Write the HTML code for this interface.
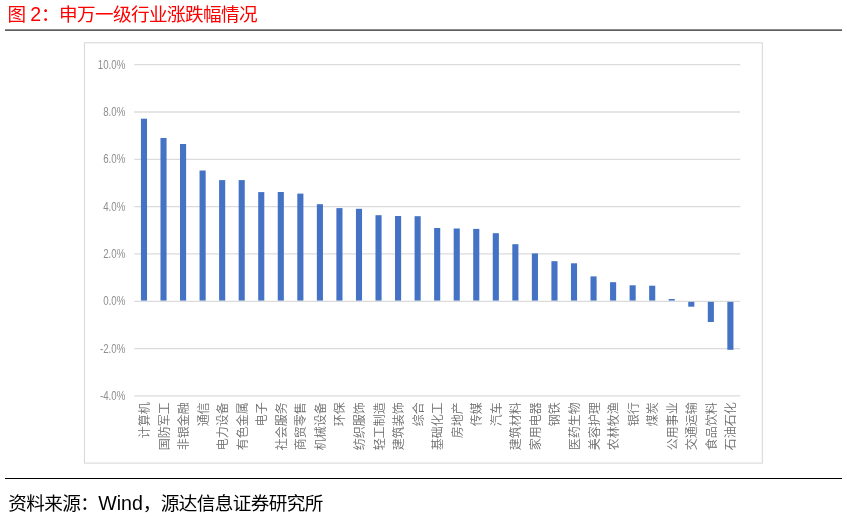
<!DOCTYPE html>
<html lang="zh-CN">
<head>
<meta charset="utf-8">
<title>图 2：申万一级行业涨跌幅情况</title>
<style>
html,body{margin:0;padding:0;background:#fff;}
body{width:847px;height:518px;position:relative;overflow:hidden;font-family:"Liberation Sans","Noto Sans CJK SC",sans-serif;}
.title{position:absolute;left:7.6px;top:1px;font-size:18.6px;letter-spacing:-0.6px;line-height:27px;color:#ff0000;white-space:nowrap;font-family:"Liberation Sans","Noto Sans CJK SC",sans-serif;}
.rule-top{position:absolute;left:5px;top:29px;width:837px;height:2px;background:linear-gradient(#8a8a8a 0,#8a8a8a 50%,#5e5e5e 50%,#5e5e5e 100%);}
.rule-bot{position:absolute;left:5px;top:478px;width:837px;height:1px;background:#000;}
.foot{position:absolute;left:8.2px;top:490px;font-size:18.6px;letter-spacing:-0.6px;line-height:27px;color:#000;white-space:nowrap;}
.lat{font-size:19.6px;line-height:0;letter-spacing:0;}
svg{position:absolute;left:0;top:0;}
.yl{font-family:"Liberation Sans",sans-serif;font-size:12.3px;fill:#8e8e8e;text-anchor:end;}
.xl{font-family:"Liberation Sans","Noto Sans CJK SC",sans-serif;font-size:12px;fill:#6e6e6e;text-anchor:end;font-weight:350;}

</style>
</head>
<body>
<div class="title">图 <span class="lat">2</span>：申万一级行业涨跌幅情况</div>
<div class="rule-top"></div>
<svg width="847" height="518" viewBox="0 0 847 518">
<rect x="84.5" y="42.8" width="677.8" height="420.3" fill="#fff" stroke="#d9d9d9" stroke-width="1.1"/>
<g stroke="#dbdbdb" stroke-width="1.3">
<line x1="134.2" y1="64.65" x2="740.3" y2="64.65"/>
<line x1="134.2" y1="111.98" x2="740.3" y2="111.98"/>
<line x1="134.2" y1="159.31" x2="740.3" y2="159.31"/>
<line x1="134.2" y1="206.64" x2="740.3" y2="206.64"/>
<line x1="134.2" y1="253.97" x2="740.3" y2="253.97"/>
<line x1="134.2" y1="301.30" x2="740.3" y2="301.30"/>
<line x1="134.2" y1="348.63" x2="740.3" y2="348.63"/>
<line x1="134.2" y1="395.96" x2="740.3" y2="395.96"/>
</g>
<g fill="#4472c4">
<rect x="140.92" y="118.70" width="6.10" height="181.85"/>
<rect x="160.47" y="138.00" width="6.10" height="162.55"/>
<rect x="180.02" y="144.00" width="6.10" height="156.55"/>
<rect x="199.56" y="170.50" width="6.10" height="130.05"/>
<rect x="219.11" y="180.10" width="6.10" height="120.45"/>
<rect x="238.66" y="180.10" width="6.10" height="120.45"/>
<rect x="258.21" y="192.10" width="6.10" height="108.45"/>
<rect x="277.75" y="192.00" width="6.10" height="108.55"/>
<rect x="297.30" y="193.60" width="6.10" height="106.95"/>
<rect x="316.85" y="204.20" width="6.10" height="96.35"/>
<rect x="336.39" y="208.10" width="6.10" height="92.45"/>
<rect x="355.94" y="208.80" width="6.10" height="91.75"/>
<rect x="375.49" y="215.20" width="6.10" height="85.35"/>
<rect x="395.03" y="216.00" width="6.10" height="84.55"/>
<rect x="414.58" y="216.20" width="6.10" height="84.35"/>
<rect x="434.13" y="228.00" width="6.10" height="72.55"/>
<rect x="453.68" y="228.50" width="6.10" height="72.05"/>
<rect x="473.22" y="228.90" width="6.10" height="71.65"/>
<rect x="492.77" y="233.20" width="6.10" height="67.35"/>
<rect x="512.32" y="244.20" width="6.10" height="56.35"/>
<rect x="531.86" y="253.40" width="6.10" height="47.15"/>
<rect x="551.41" y="261.20" width="6.10" height="39.35"/>
<rect x="570.96" y="263.30" width="6.10" height="37.25"/>
<rect x="590.50" y="276.40" width="6.10" height="24.15"/>
<rect x="610.05" y="282.20" width="6.10" height="18.35"/>
<rect x="629.60" y="285.30" width="6.10" height="15.25"/>
<rect x="649.15" y="285.70" width="6.10" height="14.85"/>
<rect x="668.69" y="299.00" width="6.10" height="1.55"/>
<rect x="688.24" y="301.85" width="6.10" height="4.85"/>
<rect x="707.79" y="301.85" width="6.10" height="20.15"/>
<rect x="727.33" y="301.85" width="6.10" height="47.95"/>
</g>
<text class="yl" transform="translate(125.3,68.75) scale(0.790,1)" x="0" y="0">10.0%</text>
<text class="yl" transform="translate(125.3,116.08) scale(0.790,1)" x="0" y="0">8.0%</text>
<text class="yl" transform="translate(125.3,163.41) scale(0.790,1)" x="0" y="0">6.0%</text>
<text class="yl" transform="translate(125.3,210.74) scale(0.790,1)" x="0" y="0">4.0%</text>
<text class="yl" transform="translate(125.3,258.07) scale(0.790,1)" x="0" y="0">2.0%</text>
<text class="yl" transform="translate(125.3,305.40) scale(0.790,1)" x="0" y="0">0.0%</text>
<text class="yl" transform="translate(125.3,352.73) scale(0.790,1)" x="0" y="0">-2.0%</text>
<text class="yl" transform="translate(125.3,400.06) scale(0.790,1)" x="0" y="0">-4.0%</text>
<text class="xl" transform="translate(148.97,402.20) rotate(-90)" x="0" y="0">计算机</text>
<text class="xl" transform="translate(168.52,402.20) rotate(-90)" x="0" y="0">国防军工</text>
<text class="xl" transform="translate(188.07,402.20) rotate(-90)" x="0" y="0">非银金融</text>
<text class="xl" transform="translate(207.61,402.20) rotate(-90)" x="0" y="0">通信</text>
<text class="xl" transform="translate(227.16,402.20) rotate(-90)" x="0" y="0">电力设备</text>
<text class="xl" transform="translate(246.71,402.20) rotate(-90)" x="0" y="0">有色金属</text>
<text class="xl" transform="translate(266.26,402.20) rotate(-90)" x="0" y="0">电子</text>
<text class="xl" transform="translate(285.80,402.20) rotate(-90)" x="0" y="0">社会服务</text>
<text class="xl" transform="translate(305.35,402.20) rotate(-90)" x="0" y="0">商贸零售</text>
<text class="xl" transform="translate(324.90,402.20) rotate(-90)" x="0" y="0">机械设备</text>
<text class="xl" transform="translate(344.44,402.20) rotate(-90)" x="0" y="0">环保</text>
<text class="xl" transform="translate(363.99,402.20) rotate(-90)" x="0" y="0">纺织服饰</text>
<text class="xl" transform="translate(383.54,402.20) rotate(-90)" x="0" y="0">轻工制造</text>
<text class="xl" transform="translate(403.08,402.20) rotate(-90)" x="0" y="0">建筑装饰</text>
<text class="xl" transform="translate(422.63,402.20) rotate(-90)" x="0" y="0">综合</text>
<text class="xl" transform="translate(442.18,402.20) rotate(-90)" x="0" y="0">基础化工</text>
<text class="xl" transform="translate(461.73,402.20) rotate(-90)" x="0" y="0">房地产</text>
<text class="xl" transform="translate(481.27,402.20) rotate(-90)" x="0" y="0">传媒</text>
<text class="xl" transform="translate(500.82,402.20) rotate(-90)" x="0" y="0">汽车</text>
<text class="xl" transform="translate(520.37,402.20) rotate(-90)" x="0" y="0">建筑材料</text>
<text class="xl" transform="translate(539.91,402.20) rotate(-90)" x="0" y="0">家用电器</text>
<text class="xl" transform="translate(559.46,402.20) rotate(-90)" x="0" y="0">钢铁</text>
<text class="xl" transform="translate(579.01,402.20) rotate(-90)" x="0" y="0">医药生物</text>
<text class="xl" transform="translate(598.55,402.20) rotate(-90)" x="0" y="0">美容护理</text>
<text class="xl" transform="translate(618.10,402.20) rotate(-90)" x="0" y="0">农林牧渔</text>
<text class="xl" transform="translate(637.65,402.20) rotate(-90)" x="0" y="0">银行</text>
<text class="xl" transform="translate(657.20,402.20) rotate(-90)" x="0" y="0">煤炭</text>
<text class="xl" transform="translate(676.74,402.20) rotate(-90)" x="0" y="0">公用事业</text>
<text class="xl" transform="translate(696.29,402.20) rotate(-90)" x="0" y="0">交通运输</text>
<text class="xl" transform="translate(715.84,402.20) rotate(-90)" x="0" y="0">食品饮料</text>
<text class="xl" transform="translate(735.38,402.20) rotate(-90)" x="0" y="0">石油石化</text>
</svg>
<div class="rule-bot"></div>
<div class="foot">资料来源：<span class="lat">Wind</span>，源达信息证券研究所</div>
</body>
</html>
